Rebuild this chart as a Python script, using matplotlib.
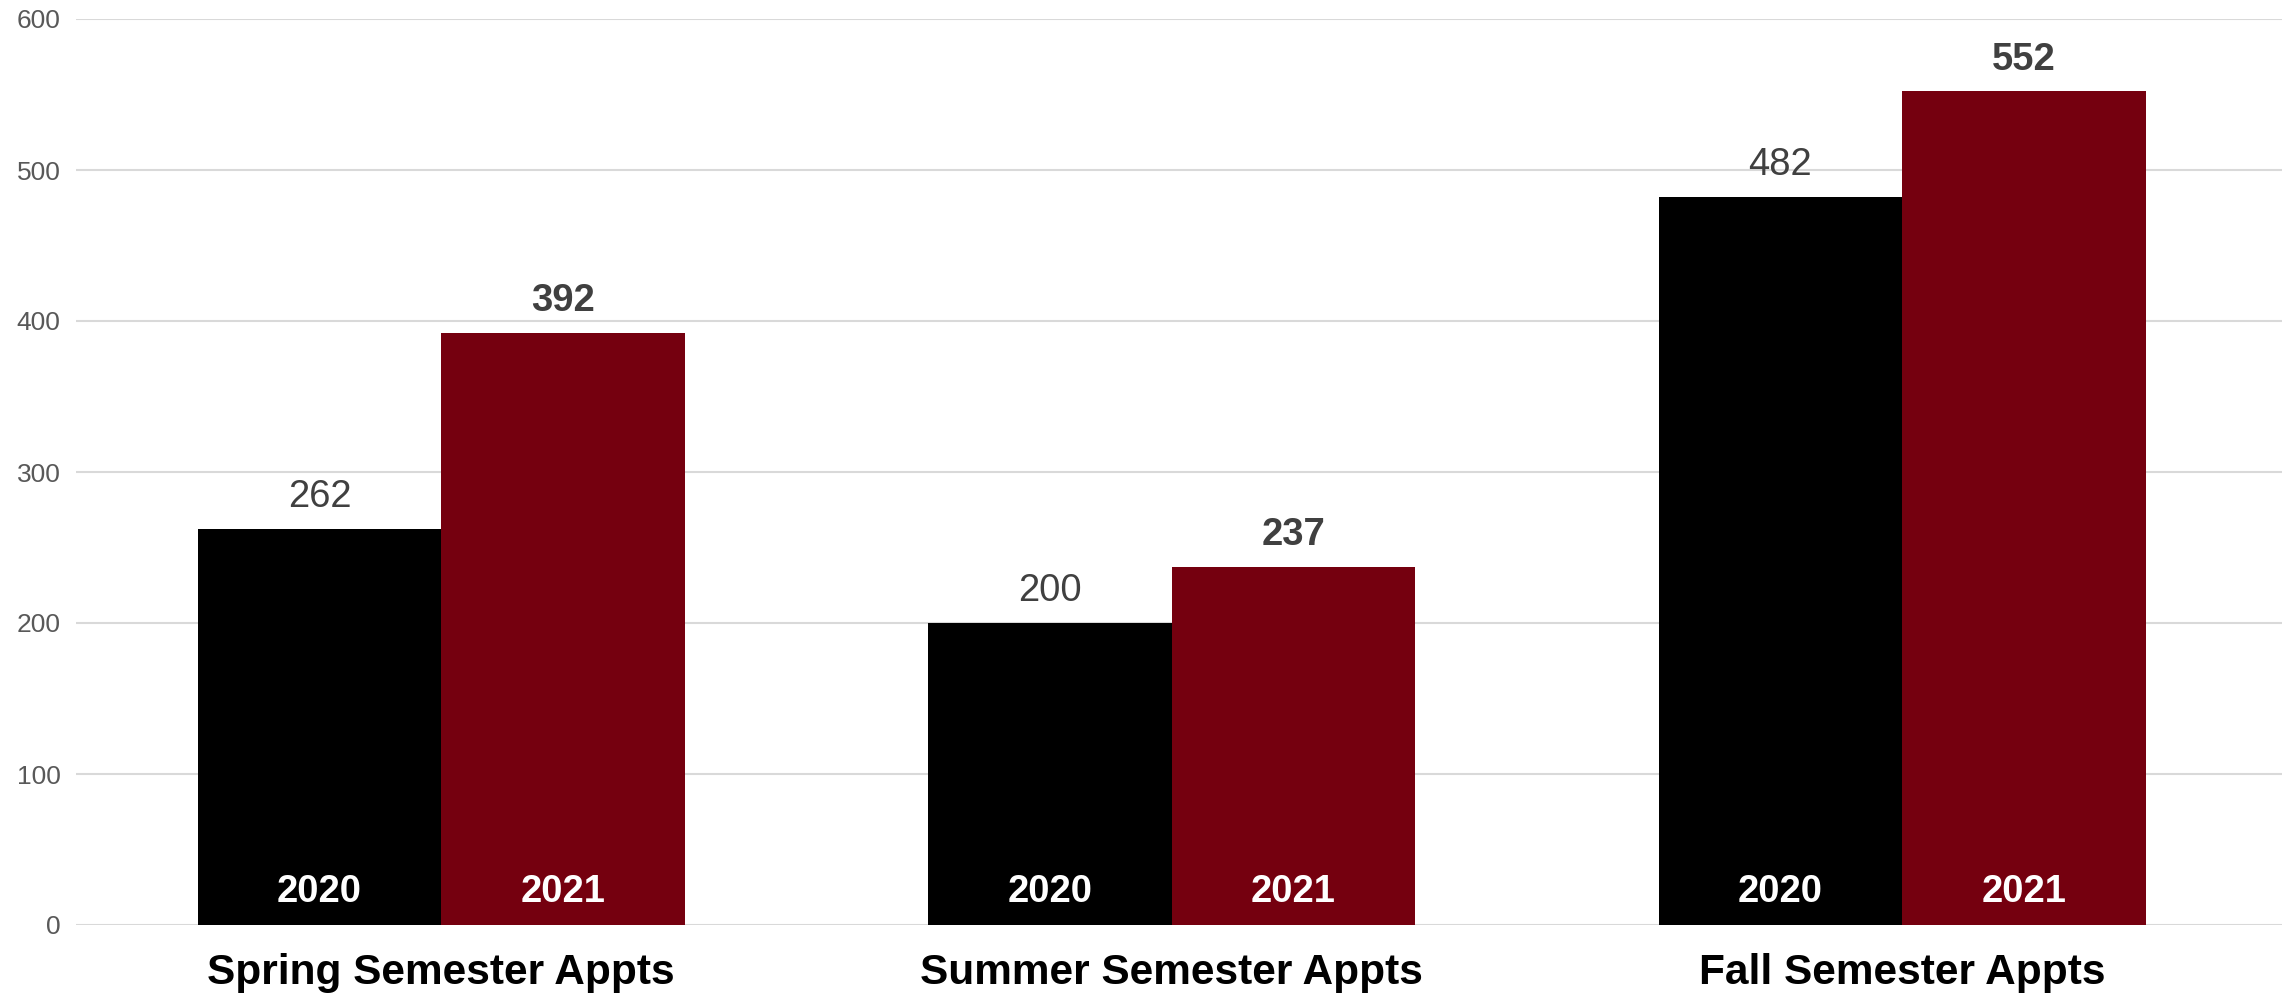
import matplotlib.pyplot as plt
import numpy as np

plt.rcParams['font.family'] = ['Liberation Sans', 'DejaVu Sans']

categories = ['Spring Semester Appts', 'Summer Semester Appts', 'Fall Semester Appts']
years = ['2020', '2021']
appts_2020 = [262, 200, 482]
appts_2021 = [392, 237, 552]
yticks = [0, 100, 200, 300, 400, 500, 600]

fig = plt.figure(figsize=(22.82, 10), dpi=100)
ax = fig.add_axes([76 / 2282, 0.075, 1 - 76 / 2282, 0.906])

x = np.arange(len(categories))
w = 1 / 3
b1 = ax.bar(x - w / 2, appts_2020, w, color='#000000', zorder=2)
b2 = ax.bar(x + w / 2, appts_2021, w, color='#75000F', zorder=2)

for bars, year, weight in [(b1, years[0], 'normal'), (b2, years[1], 'bold')]:
    for rect in bars:
        cx = rect.get_x() + rect.get_width() / 2
        h = rect.get_height()
        ax.annotate(f'{h:.0f}', (cx, h), xytext=(0, 10), textcoords='offset points',
                    ha='center', va='bottom', fontsize=27.5, color='#404040',
                    fontweight=weight)
        ax.annotate(year, (cx, 0), xytext=(0, 11), textcoords='offset points',
                    ha='center', va='bottom', fontsize=27.5, color='white',
                    fontweight='bold')

ax.set_xlim(-0.5, 2.52)
ax.set_ylim(0, 600)
ax.set_yticks(yticks)
ax.set_xticks(x)
ax.set_xticklabels(categories, fontsize=30.5, fontweight='bold', color='black')
ax.tick_params(axis='y', length=0, pad=11, labelsize=19, labelcolor='#595959')
ax.tick_params(axis='x', length=0, pad=20)
ax.grid(axis='y', color='#d9d9d9', linewidth=1.5, zorder=0)
for s in ax.spines.values():
    s.set_visible(False)

fig.savefig('out.png', dpi=100)
